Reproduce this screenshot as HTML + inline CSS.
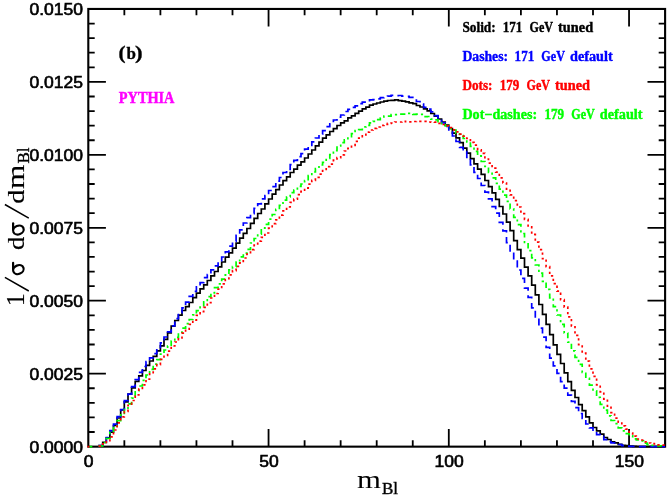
<!DOCTYPE html>
<html><head><meta charset="utf-8"><title>m_Bl distribution</title>
<style>
html,body{margin:0;padding:0;background:#fff;}
svg{display:block;will-change:transform;}
text{font-family:"Liberation Serif",serif;}
.tl{font-family:"Liberation Sans",sans-serif;font-size:15.8px;fill:#000;stroke:#000;stroke-width:0.6px;}
.lg{font-family:"Liberation Serif",serif;font-weight:bold;font-size:14.3px;stroke-width:0.4px;}
.c{fill:none;stroke-width:1.7;stroke-linejoin:miter;}
</style></head>
<body>
<svg width="670" height="499" viewBox="0 0 670 499">
<rect width="670" height="499" fill="#fff"/>
<rect x="88.3" y="8.95" width="576.8" height="437.7" fill="none" stroke="#000" stroke-width="2.1"/>
<path d="M124.35 446.6v-6.4M124.35 8.95v6.4M160.40 446.6v-6.4M160.40 8.95v6.4M196.45 446.6v-6.4M196.45 8.95v6.4M232.50 446.6v-6.4M232.50 8.95v6.4M268.55 446.6v-17.6M268.55 8.95v17.6M304.60 446.6v-6.4M304.60 8.95v6.4M340.65 446.6v-6.4M340.65 8.95v6.4M376.70 446.6v-6.4M376.70 8.95v6.4M412.75 446.6v-6.4M412.75 8.95v6.4M448.80 446.6v-17.6M448.80 8.95v17.6M484.85 446.6v-6.4M484.85 8.95v6.4M520.90 446.6v-6.4M520.90 8.95v6.4M556.95 446.6v-6.4M556.95 8.95v6.4M593.00 446.6v-6.4M593.00 8.95v6.4M629.05 446.6v-17.6M629.05 8.95v17.6M88.3 432.01h6.4M665.1 432.01h-6.4M88.3 417.42h6.4M665.1 417.42h-6.4M88.3 402.84h6.4M665.1 402.84h-6.4M88.3 388.25h6.4M665.1 388.25h-6.4M88.3 373.66h17.6M665.1 373.66h-17.6M88.3 359.07h6.4M665.1 359.07h-6.4M88.3 344.48h6.4M665.1 344.48h-6.4M88.3 329.89h6.4M665.1 329.89h-6.4M88.3 315.31h6.4M665.1 315.31h-6.4M88.3 300.72h17.6M665.1 300.72h-17.6M88.3 286.13h6.4M665.1 286.13h-6.4M88.3 271.54h6.4M665.1 271.54h-6.4M88.3 256.95h6.4M665.1 256.95h-6.4M88.3 242.36h6.4M665.1 242.36h-6.4M88.3 227.78h17.6M665.1 227.78h-17.6M88.3 213.19h6.4M665.1 213.19h-6.4M88.3 198.60h6.4M665.1 198.60h-6.4M88.3 184.01h6.4M665.1 184.01h-6.4M88.3 169.42h6.4M665.1 169.42h-6.4M88.3 154.83h17.6M665.1 154.83h-17.6M88.3 140.24h6.4M665.1 140.24h-6.4M88.3 125.66h6.4M665.1 125.66h-6.4M88.3 111.07h6.4M665.1 111.07h-6.4M88.3 96.48h6.4M665.1 96.48h-6.4M88.3 81.89h17.6M665.1 81.89h-17.6M88.3 67.30h6.4M665.1 67.30h-6.4M88.3 52.71h6.4M665.1 52.71h-6.4M88.3 38.13h6.4M665.1 38.13h-6.4M88.3 23.54h6.4M665.1 23.54h-6.4" fill="none" stroke="#000" stroke-width="1.8"/>
<path d="M89.3 446.6H92.3" stroke="#00ff00" stroke-width="1.7"/><path d="M87.4 446.6H89.5" stroke="#ff0000" stroke-width="1.7"/>
<path class="c" d="M99.1 446.6V445.6H102.7V442.4H106.3V437.9H109.9V432.1H113.5V425.5H117.1V418.0H120.7V409.8H124.3V401.9H128.0V394.2H131.6V387.9H135.2V381.3H138.8V375.8H142.4V370.5H146.0V365.3H149.6V361.0H153.2V356.3H156.8V350.9H160.4V345.9H164.0V339.4H167.6V332.9H171.2V326.2H174.8V320.5H178.4V315.2H182.0V310.5H185.6V306.6H189.2V302.5H192.8V297.7H196.4V293.2H200.1V288.9H203.7V284.9H207.3V280.5H210.9V275.8H214.5V271.5H218.1V266.9H221.7V262.0H225.3V257.1H228.9V252.9H232.5V248.2H236.1V243.2H239.7V238.2H243.3V233.4H246.9V228.5H250.5V223.3H254.1V218.3H257.7V213.5H261.3V209.0H264.9V203.9H268.6V199.0H272.2V194.2H275.8V189.7H279.4V185.0H283.0V180.6H286.6V176.8H290.2V172.5H293.8V169.1H297.4V165.2H301.0V161.8H304.6V158.0H308.2V154.0H311.8V150.0H315.4V145.8H319.0V142.2H322.6V138.2H326.2V134.9H329.8V131.5H333.4V128.6H337.0V125.5H340.7V122.9H344.3V120.9H347.9V117.9H351.5V115.8H355.1V113.4H358.7V111.1H362.3V108.8H365.9V107.1H369.5V105.2H373.1V104.0H376.7V103.0H380.3V102.0H383.9V101.1H387.5V100.5H391.1V100.4H394.7V99.9H398.3V100.7H401.9V101.1H405.5V101.8H409.1V102.8H412.8V103.6H416.4V105.5H420.0V107.0H423.6V108.8H427.2V110.8H430.8V113.5H434.4V116.1H438.0V119.0H441.6V122.2H445.2V125.1H448.8V128.5H452.4V133.1H456.0V137.8H459.6V142.7H463.2V148.1H466.8V153.2H470.4V158.6H474.0V163.9H477.6V169.2H481.2V174.4H484.9V180.5H488.5V186.7H492.1V192.8H495.7V199.3H499.3V206.5H502.9V214.0H506.5V222.1H510.1V230.7H513.7V240.6H517.3V249.6H520.9V258.2H524.5V267.2H528.1V275.8H531.7V285.1H535.3V294.9H538.9V304.5H542.5V314.3H546.1V324.3H549.7V334.6H553.3V344.9H557.0V354.3H560.6V363.5H564.2V372.9H567.8V381.7H571.4V390.4H575.0V397.5H578.6V404.6H582.2V410.6H585.8V416.9H589.4V422.8H593.0V427.5H596.6V430.9H600.2V434.1H603.8V437.5H607.4V439.5H611.0V441.9H614.6V442.8H618.2V444.4H621.8V445.4H625.4V445.6H629.1V446.0H632.7V446.3H636.3V446.5H639.9V446.6H643.5V446.6H647.1V446.6H650.7V446.6H654.3V446.6H657.9V446.6H661.5V446.6H665.1" stroke="#000"/>
<path class="c" d="M99.1 446.6V445.5H102.7V441.4H106.3V437.6H109.9V430.6H113.5V424.1H117.1V416.6H120.7V409.6H124.3V400.6H128.0V394.1H131.6V386.7H135.2V379.7H138.8V372.3H142.4V366.5H146.0V361.7H149.6V357.9H153.2V353.6H156.8V348.5H160.4V342.9H164.0V337.0H167.6V331.8H171.2V325.8H174.8V318.7H178.4V312.8H182.0V307.8H185.6V302.2H189.2V296.3H192.8V291.4H196.4V286.9H200.1V282.6H203.7V277.7H207.3V274.5H210.9V269.8H214.5V265.8H218.1V260.6H221.7V257.0H225.3V251.8H228.9V246.1H232.5V241.4H236.1V235.3H239.7V229.8H243.3V223.0H246.9V217.7H250.5V213.6H254.1V208.3H257.7V203.9H261.3V198.9H264.9V195.6H268.6V190.5H272.2V186.6H275.8V181.2H279.4V177.5H283.0V172.5H286.6V169.4H290.2V164.7H293.8V160.4H297.4V156.7H301.0V153.6H304.6V149.2H308.2V145.5H311.8V141.9H315.4V138.0H319.0V134.2H322.6V130.6H326.2V126.7H329.8V123.8H333.4V120.0H337.0V117.1H340.7V115.0H344.3V111.5H347.9V109.3H351.5V107.4H355.1V105.9H358.7V103.6H362.3V102.2H365.9V101.5H369.5V99.9H373.1V99.6H376.7V98.8H380.3V97.7H383.9V97.2H387.5V96.2H391.1V95.4H394.7V95.7H398.3V95.5H401.9V96.2H405.5V96.3H409.1V97.4H412.8V100.0H416.4V101.5H420.0V104.0H423.6V107.3H427.2V109.2H430.8V111.9H434.4V115.7H438.0V118.9H441.6V122.9H445.2V126.5H448.8V131.7H452.4V136.0H456.0V141.5H459.6V147.3H463.2V151.6H466.8V157.4H470.4V164.9H474.0V172.3H477.6V178.5H481.2V185.5H484.9V192.1H488.5V198.9H492.1V206.7H495.7V213.2H499.3V222.3H502.9V230.9H506.5V242.7H510.1V252.5H513.7V261.2H517.3V270.0H520.9V278.4H524.5V288.2H528.1V297.3H531.7V307.9H535.3V318.3H538.9V328.2H542.5V337.2H546.1V347.4H549.7V358.1H553.3V365.9H557.0V373.3H560.6V381.6H564.2V388.1H567.8V395.2H571.4V401.3H575.0V407.7H578.6V413.5H582.2V418.5H585.8V424.0H589.4V427.8H593.0V431.5H596.6V434.6H600.2V436.4H603.8V439.6H607.4V441.7H611.0V442.9H614.6V444.2H618.2V444.5H621.8V445.7H625.4V446.1H629.1V446.3H632.7V446.5H636.3V446.6H639.9V446.6H643.5V446.6H647.1V446.6H650.7V446.6H654.3V446.6H657.9V446.6H661.5V446.6H665.1" stroke="#0000ff" stroke-dasharray="7 4.4"/>
<path class="c" d="M99.1 446.6V446.0H102.7V442.5H106.3V438.5H109.9V432.3H113.5V425.9H117.1V420.7H120.7V414.9H124.3V409.5H128.0V403.8H131.6V398.2H135.2V390.9H138.8V386.0H142.4V380.4H146.0V375.0H149.6V369.4H153.2V364.2H156.8V359.6H160.4V354.2H164.0V350.0H167.6V346.1H171.2V341.0H174.8V337.3H178.4V332.5H182.0V328.2H185.6V323.7H189.2V319.5H192.8V314.9H196.4V310.6H200.1V306.0H203.7V301.8H207.3V296.7H210.9V292.9H214.5V287.7H218.1V283.8H221.7V279.1H225.3V274.9H228.9V269.9H232.5V266.7H236.1V262.1H239.7V256.9H243.3V253.1H246.9V249.3H250.5V243.0H254.1V238.5H257.7V234.2H261.3V228.1H264.9V224.3H268.6V219.2H272.2V214.5H275.8V209.4H279.4V205.3H283.0V200.1H286.6V196.8H290.2V192.6H293.8V190.0H297.4V186.4H301.0V184.0H304.6V180.5H308.2V175.7H311.8V172.0H315.4V168.5H319.0V165.0H322.6V162.3H326.2V158.4H329.8V154.7H333.4V150.6H337.0V145.9H340.7V142.6H344.3V139.9H347.9V136.6H351.5V133.6H355.1V130.6H358.7V129.6H362.3V126.9H365.9V125.3H369.5V122.9H373.1V121.3H376.7V119.6H380.3V118.1H383.9V116.2H387.5V116.1H391.1V114.5H394.7V114.6H398.3V114.2H401.9V114.1H405.5V113.3H409.1V113.3H412.8V114.3H416.4V114.1H420.0V114.4H423.6V116.6H427.2V116.5H430.8V119.2H434.4V119.8H438.0V121.7H441.6V124.7H445.2V126.0H448.8V128.7H452.4V130.2H456.0V133.1H459.6V135.5H463.2V138.5H466.8V141.8H470.4V146.4H474.0V151.3H477.6V155.9H481.2V161.5H484.9V166.4H488.5V172.4H492.1V177.8H495.7V183.4H499.3V189.1H502.9V195.1H506.5V201.3H510.1V208.8H513.7V217.4H517.3V224.6H520.9V233.5H524.5V242.4H528.1V250.6H531.7V257.8H535.3V265.0H538.9V273.2H542.5V281.3H546.1V289.4H549.7V297.8H553.3V306.7H557.0V315.0H560.6V324.3H564.2V333.0H567.8V342.2H571.4V350.9H575.0V357.4H578.6V364.3H582.2V372.3H585.8V378.3H589.4V385.2H593.0V390.9H596.6V397.3H600.2V404.3H603.8V410.1H607.4V415.8H611.0V420.5H614.6V423.7H618.2V427.8H621.8V430.8H625.4V433.6H629.1V435.8H632.7V438.8H636.3V440.0H639.9V440.9H643.5V443.2H647.1V444.6H650.7V445.3H654.3V445.4H657.9V445.8H661.5V446.0H665.1" stroke="#00ff00" stroke-dasharray="5.4 3.4 2.2 3.4"/>
<path class="c" d="M99.1 446.6V446.1H102.7V443.8H106.3V441.5H109.9V436.8H113.5V430.0H117.1V422.8H120.7V416.8H124.3V411.5H128.0V405.3H131.6V400.5H135.2V394.9H138.8V389.2H142.4V384.8H146.0V379.2H149.6V373.8H153.2V368.8H156.8V364.7H160.4V359.3H164.0V355.4H167.6V351.1H171.2V346.0H174.8V342.0H178.4V337.9H182.0V333.2H185.6V329.2H189.2V324.3H192.8V320.1H196.4V315.3H200.1V311.6H203.7V307.3H207.3V302.7H210.9V298.0H214.5V293.5H218.1V289.1H221.7V283.9H225.3V279.7H228.9V274.9H232.5V270.6H236.1V266.4H239.7V262.8H243.3V258.0H246.9V254.0H250.5V249.6H254.1V245.2H257.7V241.2H261.3V237.3H264.9V233.0H268.6V228.2H272.2V223.7H275.8V219.8H279.4V215.1H283.0V210.9H286.6V207.0H290.2V202.4H293.8V199.2H297.4V194.7H301.0V191.4H304.6V188.1H308.2V184.1H311.8V180.4H315.4V177.4H319.0V174.1H322.6V170.5H326.2V166.6H329.8V164.2H333.4V160.2H337.0V157.7H340.7V154.8H344.3V151.0H347.9V148.3H351.5V145.3H355.1V141.4H358.7V138.1H362.3V134.8H365.9V132.2H369.5V130.0H373.1V128.3H376.7V127.0H380.3V125.4H383.9V124.3H387.5V123.4H391.1V123.0H394.7V122.0H398.3V122.0H401.9V121.3H405.5V121.7H409.1V121.9H412.8V121.5H416.4V121.3H420.0V121.3H423.6V121.4H427.2V122.0H430.8V122.1H434.4V122.2H438.0V123.4H441.6V124.5H445.2V125.8H448.8V127.7H452.4V129.9H456.0V131.9H459.6V134.1H463.2V136.2H466.8V138.5H470.4V142.4H474.0V145.2H477.6V149.9H481.2V153.3H484.9V159.0H488.5V163.2H492.1V168.2H495.7V172.2H499.3V177.8H502.9V183.0H506.5V189.1H510.1V194.8H513.7V200.6H517.3V207.0H520.9V213.6H524.5V219.4H528.1V226.9H531.7V234.4H535.3V242.1H538.9V249.7H542.5V258.7H546.1V266.7H549.7V275.8H553.3V283.7H557.0V291.1H560.6V299.7H564.2V307.2H567.8V316.9H571.4V325.9H575.0V335.4H578.6V344.7H582.2V353.2H585.8V361.1H589.4V368.9H593.0V376.4H596.6V384.9H600.2V391.9H603.8V399.1H607.4V406.2H611.0V412.6H614.6V418.1H618.2V422.1H621.8V425.9H625.4V429.2H629.1V433.1H632.7V436.2H636.3V439.0H639.9V440.0H643.5V441.9H647.1V443.0H650.7V443.7H654.3V444.0H657.9V444.9H661.5V445.2H665.1" stroke="#ff0000" stroke-dasharray="2.3 3"/>
<text transform="translate(88.6 466.6) scale(1.11 1)" text-anchor="middle" class="tl">0</text>
<text transform="translate(268.9 466.6) scale(1.11 1)" text-anchor="middle" class="tl">50</text>
<text transform="translate(449.1 466.6) scale(1.11 1)" text-anchor="middle" class="tl">100</text>
<text transform="translate(629.4 466.6) scale(1.11 1)" text-anchor="middle" class="tl">150</text>
<text transform="translate(83.1 452.9) scale(1.11 1)" text-anchor="end" class="tl">0.0000</text>
<text transform="translate(83.1 380.0) scale(1.11 1)" text-anchor="end" class="tl">0.0025</text>
<text transform="translate(83.1 307.0) scale(1.11 1)" text-anchor="end" class="tl">0.0050</text>
<text transform="translate(83.1 234.1) scale(1.11 1)" text-anchor="end" class="tl">0.0075</text>
<text transform="translate(83.1 161.1) scale(1.11 1)" text-anchor="end" class="tl">0.0100</text>
<text transform="translate(83.1 88.2) scale(1.11 1)" text-anchor="end" class="tl">0.0125</text>
<text transform="translate(83.1 15.2) scale(1.11 1)" text-anchor="end" class="tl">0.0150</text>
<text class="lg" x="462.4" y="31.8" fill="#000" stroke="#000" textLength="33.3" lengthAdjust="spacingAndGlyphs">Solid:</text>
<text class="lg" x="502.7" y="31.8" fill="#000" stroke="#000" textLength="19.6" lengthAdjust="spacingAndGlyphs">171</text>
<text class="lg" x="529.5" y="31.8" fill="#000" stroke="#000" textLength="23.5" lengthAdjust="spacingAndGlyphs">GeV</text>
<text class="lg" x="558.1" y="31.8" fill="#000" stroke="#000" textLength="35.0" lengthAdjust="spacingAndGlyphs">tuned</text>
<text class="lg" x="462.4" y="61.0" fill="#0000ff" stroke="#0000ff" textLength="45.7" lengthAdjust="spacingAndGlyphs">Dashes:</text>
<text class="lg" x="514.6" y="61.0" fill="#0000ff" stroke="#0000ff" textLength="19.6" lengthAdjust="spacingAndGlyphs">171</text>
<text class="lg" x="541.3" y="61.0" fill="#0000ff" stroke="#0000ff" textLength="23.6" lengthAdjust="spacingAndGlyphs">GeV</text>
<text class="lg" x="570.0" y="61.0" fill="#0000ff" stroke="#0000ff" textLength="42.7" lengthAdjust="spacingAndGlyphs">default</text>
<text class="lg" x="462.4" y="89.6" fill="#ff0000" stroke="#ff0000" textLength="30.0" lengthAdjust="spacingAndGlyphs">Dots:</text>
<text class="lg" x="499.7" y="89.6" fill="#ff0000" stroke="#ff0000" textLength="19.6" lengthAdjust="spacingAndGlyphs">179</text>
<text class="lg" x="526.5" y="89.6" fill="#ff0000" stroke="#ff0000" textLength="23.5" lengthAdjust="spacingAndGlyphs">GeV</text>
<text class="lg" x="554.9" y="89.6" fill="#ff0000" stroke="#ff0000" textLength="35.1" lengthAdjust="spacingAndGlyphs">tuned</text>
<text class="lg" x="462.4" y="119.1" fill="#00ff00" stroke="#00ff00" textLength="74.8" lengthAdjust="spacingAndGlyphs">Dot&#8722;dashes:</text>
<text class="lg" x="544.5" y="119.1" fill="#00ff00" stroke="#00ff00" textLength="19.6" lengthAdjust="spacingAndGlyphs">179</text>
<text class="lg" x="571.3" y="119.1" fill="#00ff00" stroke="#00ff00" textLength="23.5" lengthAdjust="spacingAndGlyphs">GeV</text>
<text class="lg" x="599.7" y="119.1" fill="#00ff00" stroke="#00ff00" textLength="42.9" lengthAdjust="spacingAndGlyphs">default</text>
<g font-weight="bold" fill="#000" stroke="#000" stroke-width="0.3">
<text transform="translate(118.4 59.1) scale(1.12 1)" font-size="19">(</text>
<text transform="translate(126.4 59.3)" font-size="17">b</text>
<text transform="translate(135.05 59.1) scale(1.2 1)" font-size="19">)</text>
</g>
<text transform="translate(118.8 102.5) scale(0.879 1)" font-weight="bold" font-size="16.3" fill="#ff00ff" stroke="#ff00ff" stroke-width="0.45">PYTHIA</text>
<!-- x title -->
<g fill="#000">
<text transform="translate(356.9 487.9) scale(1.232 1.03)" font-size="25">m</text>
<text transform="translate(381.9 493.7)" font-size="17" stroke="#000" stroke-width="0.4">Bl</text>
</g>
<!-- y title -->
<path d="M28.8 291L4.9 277.4M28.8 218.2L4.9 204.5" stroke="#000" stroke-width="1.5" fill="none"/>
<g fill="none" stroke="#000" stroke-width="2.2" stroke-linecap="round">
<ellipse cx="18.4" cy="269.6" rx="5.4" ry="4.3" transform="rotate(-22 18.4 269.6)"/>
<path d="M13.1 262.8V269.2"/>
<ellipse cx="18.4" cy="230.05" rx="5.4" ry="4.3" transform="rotate(-22 18.4 230.05)"/>
<path d="M13.1 223.25V229.65"/>
</g>
<g fill="#000" stroke="#000" stroke-width="0.15" transform="translate(24 304) rotate(-90)" font-size="25">
<text transform="translate(-2.34 0) scale(1.04 1)">1</text>
<text transform="translate(53.94 0) scale(1.058 0.96)">d</text>
<text transform="translate(100.37 0) scale(1.129 0.96)">d</text>
<text transform="translate(115 0) scale(1.249 1)">m</text>
<text transform="translate(140.5 5.4)" font-size="17" stroke="#000" stroke-width="0.4">Bl</text>
</g>
</svg>
</body></html>
